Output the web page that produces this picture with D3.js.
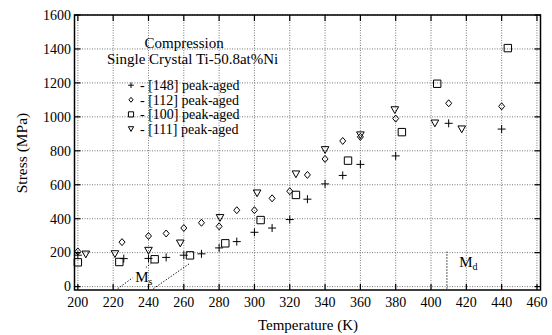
<!DOCTYPE html>
<html><head><meta charset="utf-8">
<script src="https://cdn.jsdelivr.net/npm/d3@7"></script>
<style>html,body{margin:0;padding:0;background:#fff} svg text{font-family:"Liberation Serif","Times New Roman","DejaVu Serif",serif;}</style>
</head><body><svg id="c" width="552" height="335"></svg>
<script>
// ---- data ----
const xTicks = [200,220,240,260,280,300,320,340,360,380,400,420,440,460];
const yTicks = [0,200,400,600,800,1000,1200,1400,1600];

const temp148   = [200,226,240,250,260,270,280,290,300,310,320,330,340,350,360,380,410,440];
const stress148 = [185,165,166,172,185,193,228,265,320,345,395,515,605,655,720,770,962,928];

const temp112   = [200,225,240,250,260,270,280,290,300,310,320,330,340,350,360,380,410,440];
const stress112 = [207,262,298,313,345,376,355,450,450,520,562,658,752,858,882,990,1080,1062];

const temp100   = [200,223.5,243.5,263.5,283.5,303.5,323.5,353,383.5,403.5,443.5];
const stress100 = [143,145,161,184,255,392,540,742,910,1195,1405];

const temp111   = [204.5,221,240,258,280.5,301.5,323.5,340,360,379.5,402.2,417.4];
const stress111 = [190,192,212,255,405,550,662,805,892,1040,962,927];

const seriesNames = ["[148] peak-aged","[112] peak-aged","[100] peak-aged","[111] peak-aged"];
const titleLines = ["Compression","Single Crystal Ti-50.8at%Ni"];
const msLine1a = [[222.6,-12],[231,52]];
const msLine1b = [[238.5,112],[241.5,138]];
const msLine2 = [[242.8,-12],[263,134]];
const mdLine = [[409,-12],[409,206]];

// ---- layout ----
const svg = d3.select("#c");
const L = 74.5, R = 540.5, T = 15, B = 290;
const x = d3.scaleLinear().domain([198.1,462]).range([L,R]);
const y = d3.scaleLinear().domain([-20,1600]).range([B,T]);

// grid
const grid = svg.append("g").attr("stroke","#555").attr("stroke-width",0.8).attr("stroke-dasharray","1,1.5");
xTicks.forEach(t=>grid.append("line").attr("x1",x(t)).attr("x2",x(t)).attr("y1",T).attr("y2",B));
yTicks.forEach(t=>grid.append("line").attr("x1",L).attr("x2",R).attr("y1",y(t)).attr("y2",y(t)));

// inward ticks on all sides
const tk = svg.append("g").attr("stroke","#000").attr("stroke-width",1.2);
xTicks.forEach(t=>{
  tk.append("line").attr("x1",x(t)).attr("x2",x(t)).attr("y1",B).attr("y2",B-6);
  tk.append("line").attr("x1",x(t)).attr("x2",x(t)).attr("y1",T).attr("y2",T+6);
});
yTicks.forEach(t=>{
  tk.append("line").attr("x1",L).attr("x2",L+6).attr("y1",y(t)).attr("y2",y(t));
  tk.append("line").attr("x1",R).attr("x2",R-6).attr("y1",y(t)).attr("y2",y(t));
});
svg.append("rect").attr("x",L).attr("y",T).attr("width",R-L).attr("height",B-T)
  .attr("fill","none").attr("stroke","#000").attr("stroke-width",1.5);

// tick labels
xTicks.forEach(t=>svg.append("text").attr("x",x(t)).attr("y",306.5).attr("text-anchor","middle")
  .attr("font-size",14).text(t));
yTicks.forEach(t=>svg.append("text").attr("x",71).attr("y",y(t)+4.8).attr("text-anchor","end")
  .attr("font-size",14).text(t));

// axis titles
svg.append("text").attr("x",(L+R)/2+0.5).attr("y",330).attr("text-anchor","middle")
  .attr("font-size",15).text("Temperature (K)");
svg.append("text").attr("transform","translate(27,153) rotate(-90)").attr("text-anchor","middle")
  .attr("font-size",15.5).text("Stress (MPa)");

// markers
function marker(g,type,s){
  const p = g.append("path").attr("fill","none").attr("stroke","#000").attr("stroke-width",1);
  if(type==="plus") p.attr("d",`M${-4*s},0H${4*s}M0,${-4*s}V${4*s}`);
  if(type==="diamond") p.attr("d",`M0,${-3.5*s}L${3*s},0L0,${3.5*s}L${-3*s},0Z`);
  if(type==="square") p.attr("d",`M${-3.7*s},${-3.7*s}H${3.7*s}V${3.7*s}H${-3.7*s}Z`);
  if(type==="tri") p.attr("d",`M${-3.8*s},${-3.3*s}H${3.8*s}L0,${3.5*s}Z`);
}
const series = [
  {t:temp148,s:stress148,m:"plus"},
  {t:temp112,s:stress112,m:"diamond"},
  {t:temp100,s:stress100,m:"square"},
  {t:temp111,s:stress111,m:"tri"}
];
series.forEach(se=>{
  se.t.forEach((tv,i)=>{
    const g = svg.append("g").attr("transform",`translate(${x(tv)},${y(se.s[i])})`);
    marker(g,se.m,1);
  });
});

// annotation lines
const line = d3.line().x(d=>x(d[0])).y(d=>y(d[1]));
[msLine1a,msLine1b,msLine2,mdLine].forEach(l=>svg.append("path").attr("d",line(l))
  .attr("fill","none").attr("stroke","#000").attr("stroke-width",1).attr("stroke-dasharray","1.3,1.7"));

// M_s and M_d labels
const ms = svg.append("text").attr("x",x(232.5)).attr("y",y(25)).attr("font-size",15);
ms.append("tspan").text("M");
ms.append("tspan").attr("font-size",10).attr("dy",3).text("s");
const md = svg.append("text").attr("x",x(416)).attr("y",y(115)).attr("font-size",15);
md.append("tspan").text("M");
md.append("tspan").attr("font-size",10).attr("dy",3).text("d");

// legend
svg.append("text").attr("x",144.5).attr("y",48).attr("font-size",15).text(titleLines[0]);
svg.append("text").attr("x",107).attr("y",63.5).attr("font-size",15).text(titleLines[1]);
seriesNames.forEach((n,i)=>{
  const yy = 85.2 + i*14.6;
  const g = svg.append("g").attr("transform",`translate(131,${yy})`);
  marker(g,series[i].m,0.7);
  svg.append("text").attr("x",140).attr("y",yy+4.8).attr("font-size",14).text("- "+n);
});
</script>
</body></html>
